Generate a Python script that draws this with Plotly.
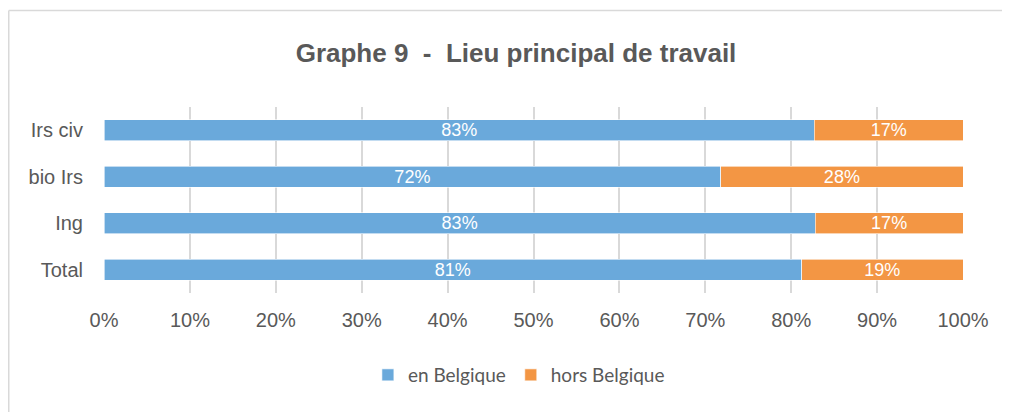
import plotly.graph_objects as go

categories = ["Irs civ", "bio Irs", "Ing", "Total"]
en_belgique = [82.7, 71.8, 82.8, 81.2]
hors_belgique = [17.3, 28.2, 17.2, 18.8]
tick_vals = [0, 10, 20, 30, 40, 50, 60, 70, 80, 90, 100]
tick_text = [f"{v}%" for v in tick_vals]

BLUE = "#6AA9DB"
ORANGE = "#F39644"
TXT = "#595959"

W, H = 1002, 404
ML, MT, MR, MB = 96, 99, 47, 119
PW, PH = W - ML - MR, H - MT - MB

fig = go.Figure()
for vals, name, col in [(en_belgique, "en Belgique", BLUE), (hors_belgique, "hors Belgique", ORANGE)]:
    fig.add_trace(go.Bar(
        y=categories, x=vals, orientation="h", name=name,
        marker=dict(color=col, line=dict(color="white", width=0.6)),
        texttemplate="%{x:.0f}%", textposition="inside", insidetextanchor="middle",
        textfont=dict(family="Liberation Sans, Arial", size=18, color="white"),
        textangle=0, constraintext="none",
    ))

# outer frame (left and top edges visible)
L = (0.75 - ML) / PW
T = (MT + PH - 2.5) / PH
R = (W - ML) / PW
B = -(MB) / PH
fig.add_shape(type="line", xref="paper", yref="paper", x0=L, x1=L, y0=B, y1=T,
              line=dict(color="#D9D9D9", width=1.5), layer="below")
fig.add_shape(type="line", xref="paper", yref="paper", x0=L, x1=R, y0=T, y1=T,
              line=dict(color="#D9D9D9", width=1.5), layer="below")

fig.update_layout(
    width=W, height=H,
    margin=dict(l=ML, r=MR, t=MT, b=MB),
    paper_bgcolor="white", plot_bgcolor="white",
    barmode="stack", bargap=0.54,
    title=dict(text="<b>Graphe 9  -  Lieu principal de travail</b>",
               x=508 / W, xanchor="center",
               y=1 - 45 / H, yanchor="middle",
               font=dict(family="Liberation Sans, Arial", size=26, color=TXT)),
    font=dict(family="Liberation Sans, Arial", color=TXT),
    showlegend=True,
    legend=dict(orientation="h", x=0.483, xanchor="center", y=-(367 - (MT + PH)) / PH,
                yanchor="middle",
                font=dict(family="Lato, Open Sans", size=19, color=TXT),
                traceorder="normal", itemwidth=30),
    xaxis=dict(range=[0, 100], tickvals=tick_vals, ticktext=tick_text,
               showgrid=True, gridcolor="#D9D9D9", gridwidth=1.5,
               zeroline=False, showline=False, ticks="",
               tickfont=dict(family="Liberation Sans, Arial", size=20, color=TXT),
               ticklabelstandoff=13, fixedrange=True),
    yaxis=dict(autorange="reversed", showgrid=False, zeroline=False, showline=False,
               ticks="", tickfont=dict(family="Liberation Sans, Arial", size=20, color=TXT),
               ticklabelstandoff=20),
)

fig.write_html("out.html")
